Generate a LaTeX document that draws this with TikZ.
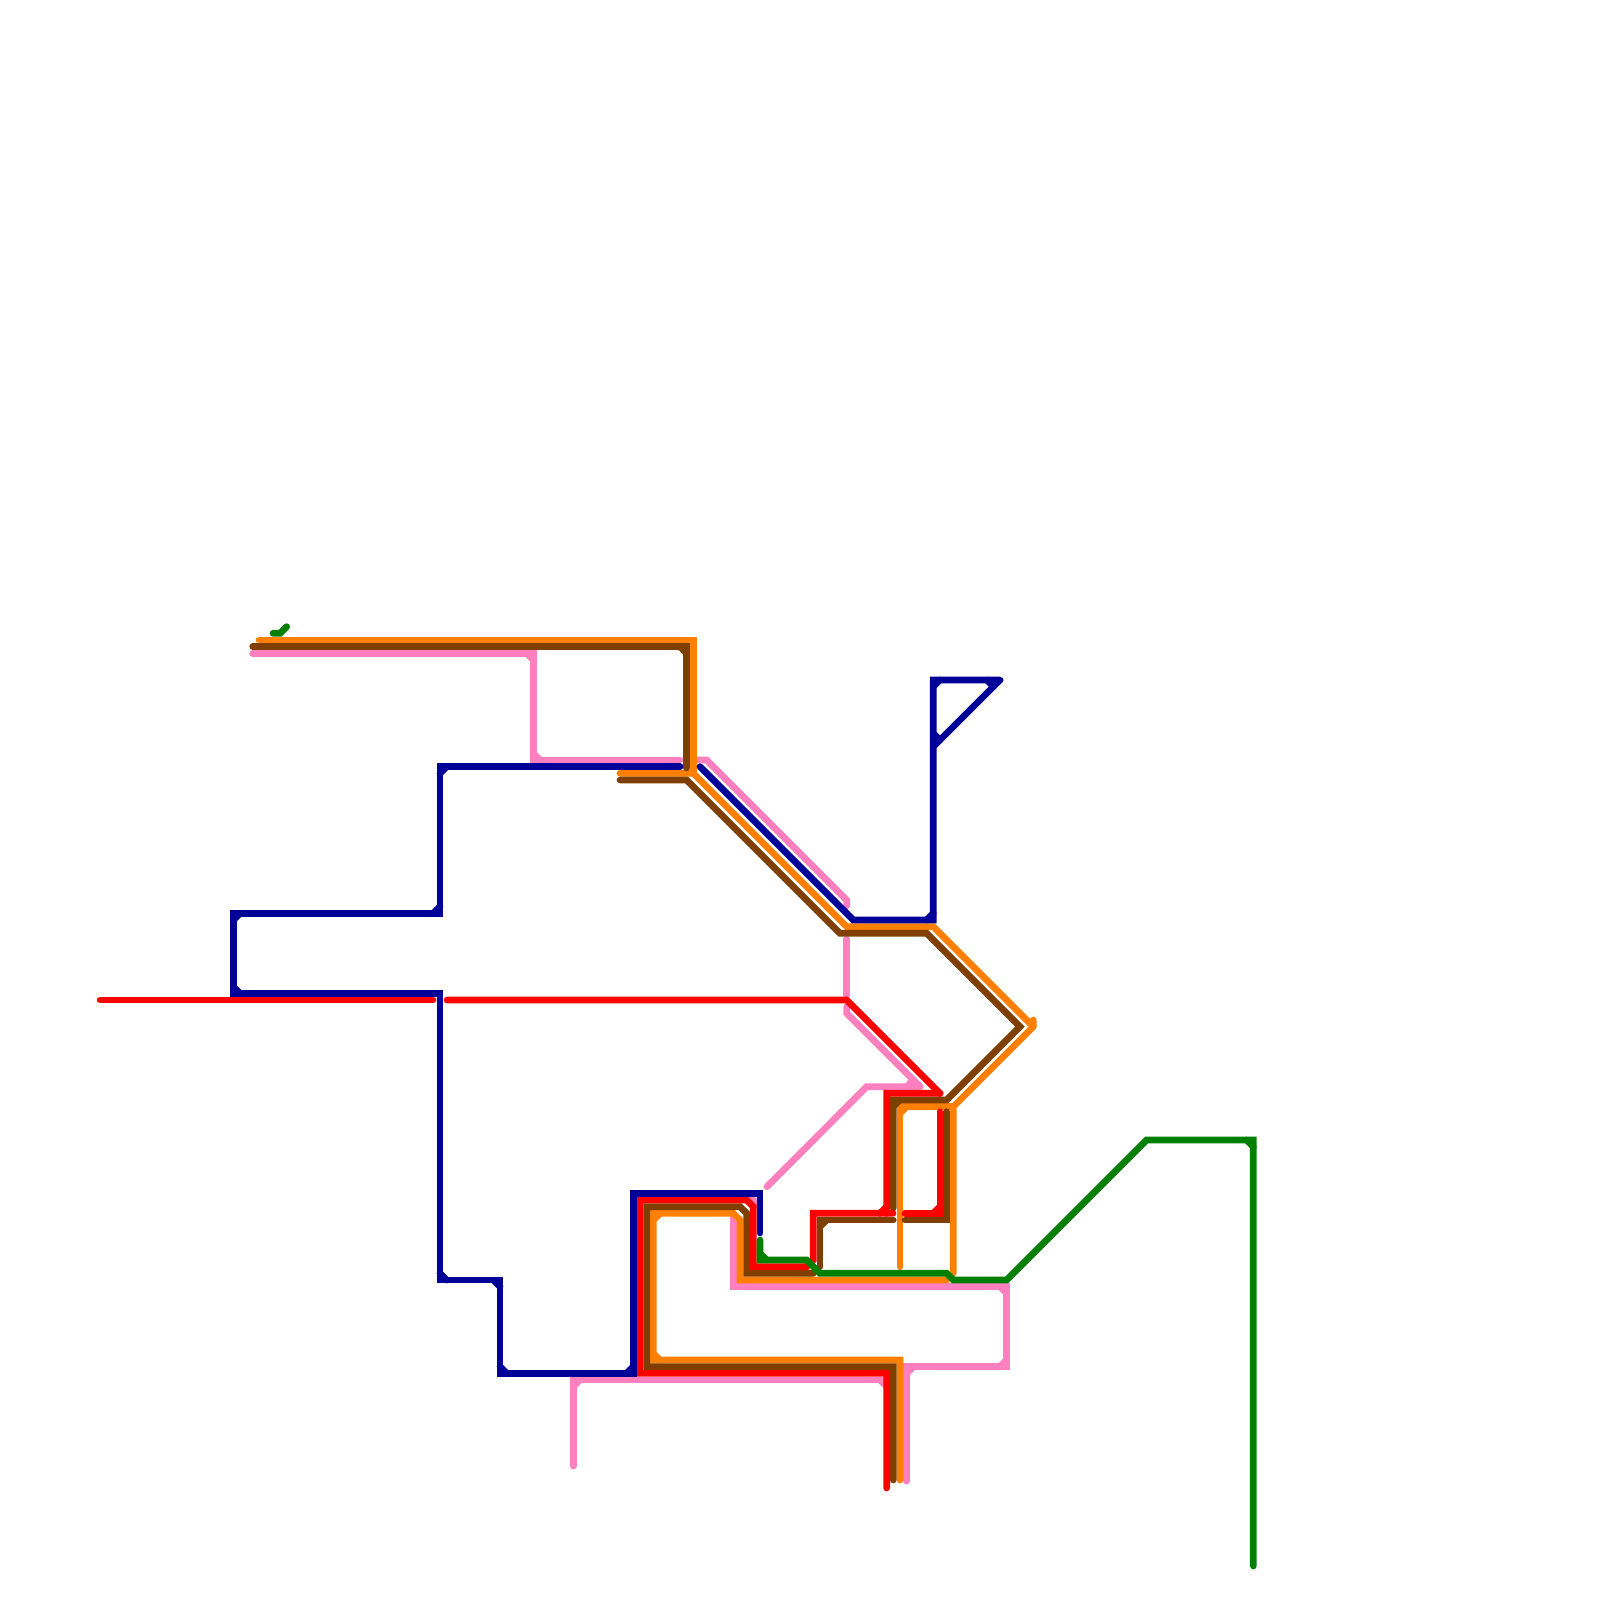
\documentclass[tikz,border=0pt]{standalone}
\definecolor{mblue}{HTML}{000099}
\definecolor{mred}{HTML}{FF0000}
\definecolor{morange}{HTML}{FF7F00}
\definecolor{mbrown}{HTML}{7F3F00}
\definecolor{mpink}{HTML}{FF7FBF}
\definecolor{mgreen}{HTML}{007F00}
\tikzset{
  railline/.style={line width=0.1334cm,line cap=round,line join=miter,miter limit=2},
  pinkline/.style={railline,draw=mpink},
  orangeline/.style={railline,draw=morange},
  brownline/.style={railline,draw=mbrown},
  redline/.style={railline,draw=mred},
  blueline/.style={railline,draw=mblue},
  greenline/.style={railline,draw=mgreen},
}
% inner chamfer at a right-angle corner: style, x, y, horizontal leg sign, vertical leg sign
\newcommand{\chamf}[5]{\draw[#1] ({#2+6.67*(#4)},#3) -- (#2,{#3+6.67*(#5)});}
% rounded tip at an acute corner
\newcommand{\tipdot}[3]{\draw[#1] (#2,#3) -- ({#2+0.2},#3);}
\begin{document}
\begin{tikzpicture}[x=0.02cm,y=-0.02cm]
\useasboundingbox[fill=white] (0,0) rectangle (1600,1600);
% pink
\draw[pinkline] (252.7,653.3) -- (533.3,653.3) -- (533.3,760) -- (680,760);
\draw[pinkline] (698,760) -- (706.67,760) -- (846.67,900) -- (846.67,906);
\draw[pinkline] (846.67,939) -- (846.67,995);
\draw[pinkline] (846.67,1006.67) -- (846.67,1013.3) -- (920,1086.67) -- (866.67,1086.67) -- (767,1186.67);
\draw[pinkline] (906.67,1086.67) -- (913.3,1080);
\draw[pinkline] (746.67,1193.3) -- (760,1206.67);
\draw[pinkline] (733.3,1218) -- (733.3,1286.67) -- (1006.67,1286.67) -- (1006.67,1366.67) -- (906.67,1366.67) -- (906.67,1481);
\draw[pinkline] (573.3,1466) -- (573.3,1380) -- (886.67,1380);
\chamf{pinkline}{533.3}{653.3}{-1}{1}
\chamf{pinkline}{533.3}{760}{1}{-1}
\chamf{pinkline}{573.3}{1380}{1}{1}
\chamf{pinkline}{1006.67}{1286.67}{-1}{1}
\chamf{pinkline}{1006.67}{1366.67}{-1}{-1}
\chamf{pinkline}{906.67}{1366.67}{1}{1}
\chamf{pinkline}{886.67}{1380}{-1}{1}
\tipdot{pinkline}{920}{1086.67}
% orange
\draw[orangeline] (259,640) -- (693.3,640) -- (693.3,773.3);
\draw[orangeline] (620,773.3) -- (693.3,773.3) -- (846.67,926.67) -- (933.3,926.67) -- (1033.3,1026.67) -- (1033.3,1020);
\draw[orangeline] (1033.3,1026.67) -- (953.3,1106.67) -- (953.3,1273);
\draw[orangeline] (953.3,1106.67) -- (900,1106.67) -- (900,1266.67);
\draw[orangeline] (900,1480) -- (900,1360) -- (653.3,1360) -- (653.3,1213.3) -- (733.3,1213.3) -- (740,1220) -- (740,1280) -- (946.67,1280);
\chamf{orangeline}{653.3}{1213.3}{1}{1}
\chamf{orangeline}{653.3}{1360}{1}{-1}
\chamf{orangeline}{900}{1106.67}{1}{1}
% brown
\draw[brownline] (252.7,646.67) -- (686.67,646.67) -- (686.67,768);
\draw[brownline] (620,780) -- (686.67,780) -- (840,933.3) -- (926.67,933.3) -- (1020,1026.67) -- (946.67,1100) -- (893.3,1100) -- (893.3,1208);
\draw[brownline] (946.67,1111.67) -- (946.67,1220) -- (905,1220);
\draw[brownline] (893.3,1220) -- (820,1220) -- (820,1266.67);
\draw[brownline] (813.3,1273.3) -- (746.67,1273.3) -- (746.67,1213.3) -- (740,1206.67) -- (646.67,1206.67) -- (646.67,1366.67) -- (893.3,1366.67) -- (893.3,1480);
\chamf{brownline}{686.67}{646.67}{-1}{1}
\chamf{brownline}{893.3}{1100}{1}{1}
\chamf{brownline}{820}{1220}{1}{1}
% red
\draw[redline] (100,1000) -- (433,1000);
\draw[redline] (447,1000) -- (846.67,1000) -- (940,1093.3) -- (886.67,1093.3) -- (886.67,1213.3);
\draw[redline] (893,1213.3) -- (813.3,1213.3) -- (813.3,1260) -- (806.67,1266.67) -- (753.3,1266.67) -- (753.3,1206.67) -- (746.67,1200) -- (640,1200) -- (640,1373.3) -- (886.67,1373.3) -- (886.67,1488);
\draw[redline] (905,1213.3) -- (940,1213.3) -- (940,1111.67);
\chamf{redline}{886.67}{1213.3}{-1}{-1}
\chamf{redline}{940}{1213.3}{-1}{-1}
\tipdot{redline}{940}{1093.3}
% blue
\draw[blueline] (680,766.67) -- (440,766.67) -- (440,913.3) -- (233.3,913.3) -- (233.3,993.3) -- (440,993.3) -- (440,1280) -- (500,1280) -- (500,1373.3) -- (633.3,1373.3) -- (633.3,1193.3) -- (760,1193.3) -- (760,1233);
\draw[blueline] (700,766.67) -- (853.3,920) -- (933.3,920) -- (933.3,680) -- (1000,680) -- (933.3,746.67);
\chamf{blueline}{440}{766.67}{1}{1}
\chamf{blueline}{440}{913.3}{-1}{-1}
\chamf{blueline}{233.3}{913.3}{1}{1}
\chamf{blueline}{233.3}{993.3}{1}{-1}
\chamf{blueline}{440}{1280}{1}{-1}
\chamf{blueline}{500}{1280}{-1}{1}
\chamf{blueline}{500}{1373.3}{1}{-1}
\chamf{blueline}{633.3}{1373.3}{-1}{-1}
\chamf{blueline}{933.3}{920}{-1}{-1}
\chamf{blueline}{933.3}{680}{1}{1}
\draw[blueline] (993.3,686.67) -- (987,680);
\draw[blueline] (933.3,733.3) -- (940,740);
\tipdot{blueline}{1000}{680}
% green
\draw[greenline] (273,633.3) -- (280,633.3) -- (286.67,626.67);
\draw[greenline] (760,1240) -- (760,1260) -- (806.67,1260) -- (820,1273.3) -- (946.67,1273.3) -- (953.3,1280) -- (1006.67,1280) -- (1146.67,1140) -- (1253.3,1140) -- (1253.3,1566);
\chamf{greenline}{760}{1260}{1}{-1}
\chamf{greenline}{1253.3}{1140}{-1}{1}
\end{tikzpicture}
\end{document}
